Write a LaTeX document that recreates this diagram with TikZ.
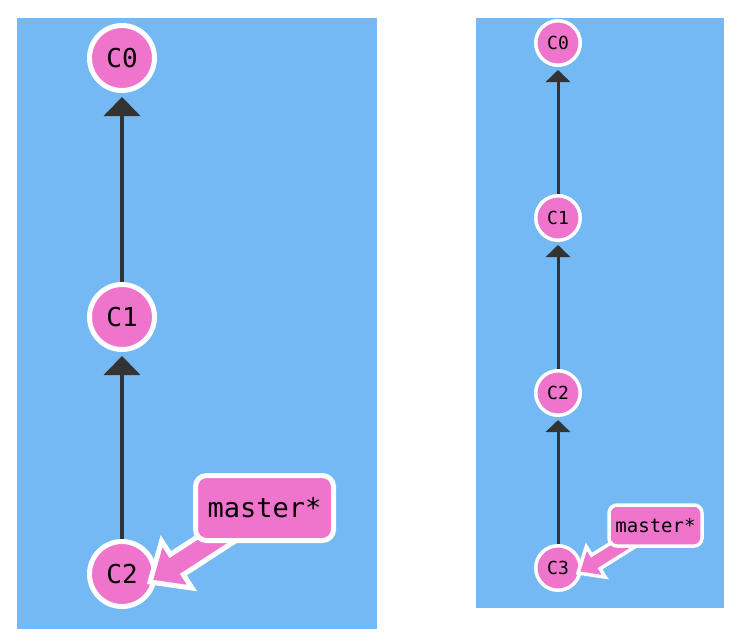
\documentclass[tikz,border=0pt]{standalone}
\usepackage{fontspec}
\newfontfamily\gitmono{DejaVu Sans Mono}
\usetikzlibrary{arrows.meta,calc}
\definecolor{panelblue}{HTML}{74B9F4}
\definecolor{commitpink}{HTML}{EE74CC}
\definecolor{edgegray}{HTML}{333333}
\begin{document}
\begin{tikzpicture}[x=1pt,y=-1pt,
  commitL/.style={circle, fill=commitpink, draw=white, line width=5pt, minimum size=65pt, inner sep=0pt, font=\gitmono\fontsize{26}{28}\selectfont},
  commitS/.style={circle, fill=commitpink, draw=white, line width=3.5pt, minimum size=44.5pt, inner sep=0pt, font=\gitmono\fontsize{18}{20}\selectfont},
  branchL/.style={rectangle, rounded corners=11pt, fill=commitpink, draw=white, line width=5pt, minimum width=138pt, minimum height=65pt, inner sep=0pt, font=\gitmono\fontsize{27}{29}\selectfont},
  branchS/.style={rectangle, rounded corners=8pt, fill=commitpink, draw=white, line width=3.5pt, minimum width=93pt, minimum height=41pt, inner sep=0pt, font=\gitmono\fontsize{19}{21}\selectfont},
  edgeL/.style={draw=edgegray, line width=4pt, -{Triangle[width=36pt,length=19pt]}, shorten >=4pt},
  edgeS/.style={draw=edgegray, line width=3pt, -{Triangle[width=24pt,length=12pt]}, shorten >=3pt},
  fatarrow/.style={fill=commitpink, draw=white, line join=miter}
]
\useasboundingbox (0,0) rectangle (743,642);
\fill[panelblue] (17,18) rectangle (377,629);
\fill[panelblue] (476,18) rectangle (724,608);

% left graph
\node[commitL] (l0) at (122,58) {C0};
\node[commitL] (l1) at (122,317) {C1};
\node[commitL] (l2) at (122,574) {C2};
\draw[edgeL] (l1) -- (l0);
\draw[edgeL] (l2) -- (l1);
\coordinate (mL) at (264.5,508);
\coordinate (tipL) at ([shift={(28pt,-8pt)}]l2.center);
\begin{scope}[shift={(tipL)}, rotate=33]
  \draw[fatarrow, line width=5pt] (0,0) -- (32,28) -- (32,12) -- (110,12) -- (110,-12) -- (32,-12) -- (32,-28) -- cycle;
\end{scope}
\node[branchL] (masterL) at (mL) {master*};

% right graph
\node[commitS] (r0) at (558,43) {C0};
\node[commitS] (r1) at (558,218) {C1};
\node[commitS] (r2) at (558,393) {C2};
\node[commitS] (r3) at (558,568) {C3};
\draw[edgeS] (r1) -- (r0);
\draw[edgeS] (r2) -- (r1);
\draw[edgeS] (r3) -- (r2);
\coordinate (mR) at (655.5,525.5);
\coordinate (tipR) at ([shift={(20pt,-5pt)}]r3.center);
\begin{scope}[shift={(tipR)}, rotate=32]
  \draw[fatarrow, line width=3.5pt] (0,0) -- (21,18) -- (21,8) -- (80,8) -- (80,-8) -- (21,-8) -- (21,-18) -- cycle;
\end{scope}
\node[branchS] (masterR) at (mR) {master*};
\end{tikzpicture}
\end{document}
